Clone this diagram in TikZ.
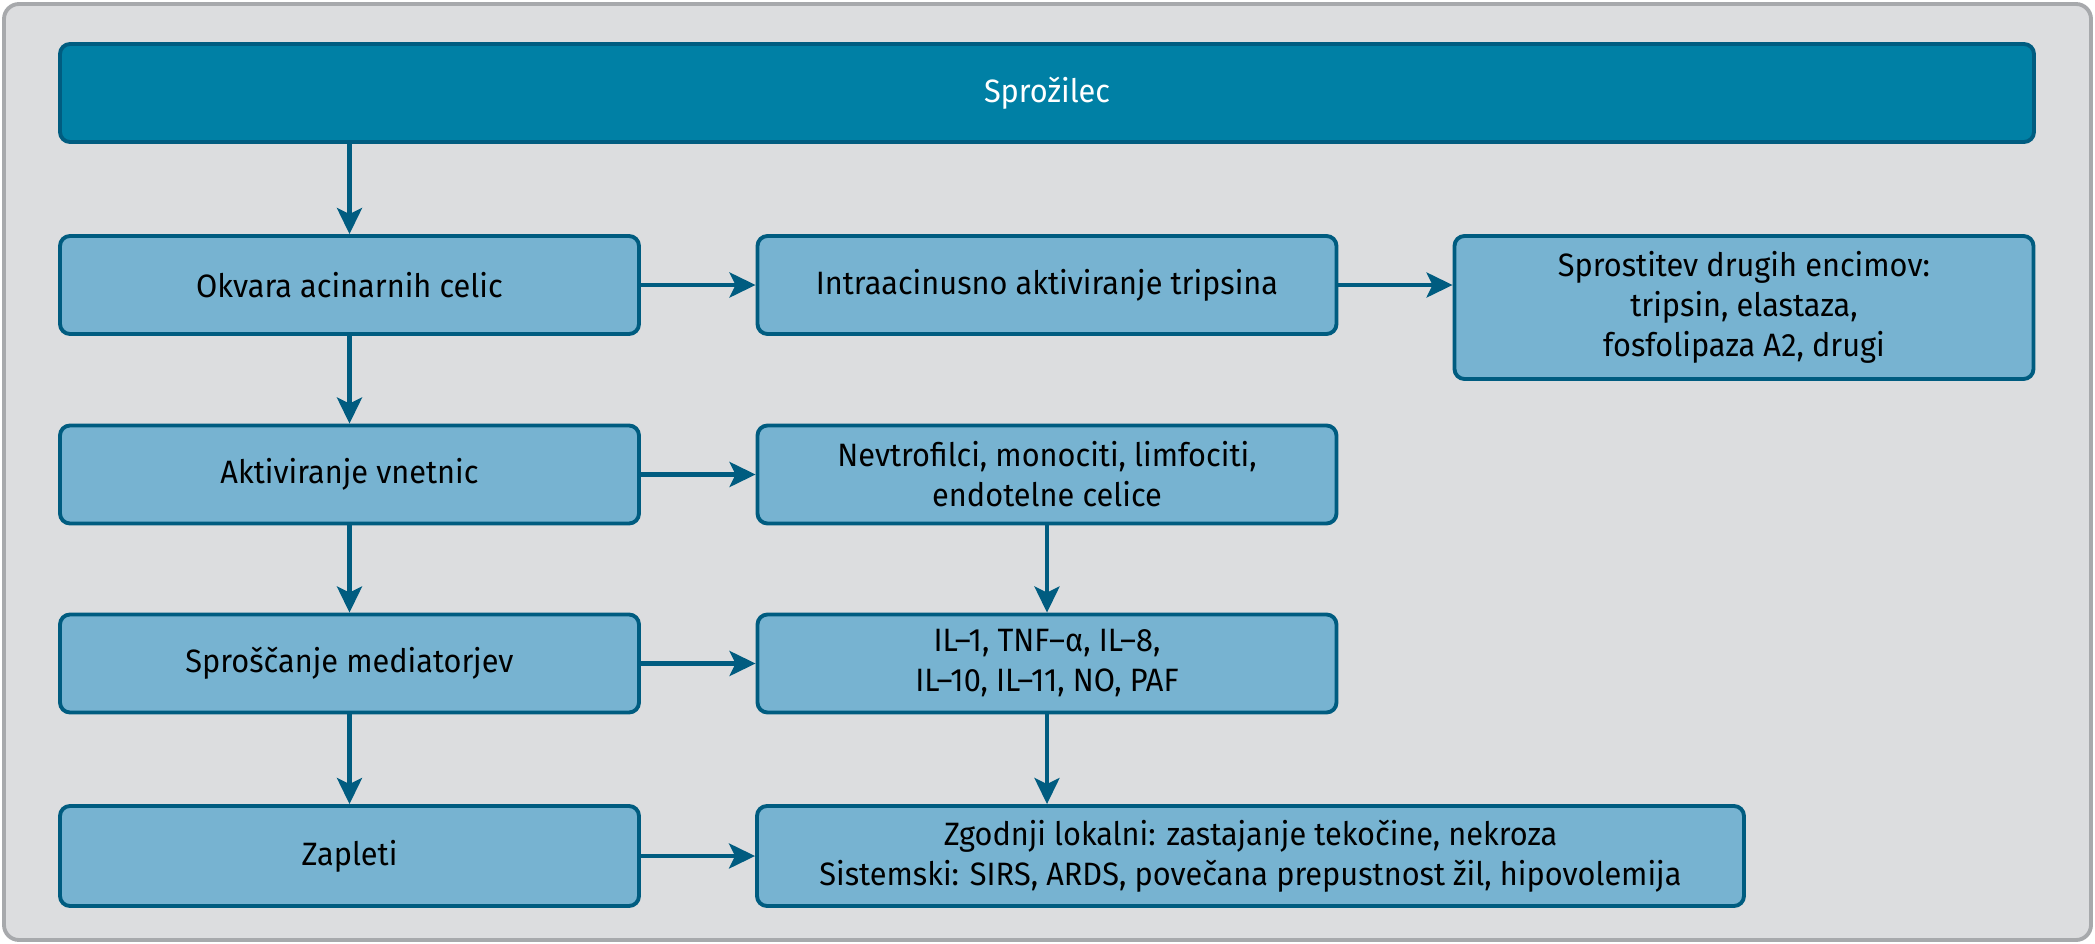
\documentclass[tikz,border=0pt]{standalone}
\usepackage{fontspec}
\setmainfont[FakeStretch=0.95]{Fira Sans}
\usetikzlibrary{arrows.meta}

\definecolor{ozadje}{HTML}{DCDDDF}
\definecolor{okvir}{HTML}{A7A9AC}
\definecolor{temna}{HTML}{005C80}
\definecolor{glavna}{HTML}{0080A5}
\definecolor{svetla}{HTML}{77B3D1}

\tikzset{
  korak/.style={draw=temna, fill=svetla, line width=1.1pt,
    rounded corners=0.1cm, inner sep=0pt, align=center,
    minimum width=5.79cm, minimum height=0.98cm,
    font=\fontsize{9.2}{11.4}\selectfont},
  vrh/.style={korak, fill=glavna, text=white, minimum width=19.74cm},
  puscica/.style={-{Stealth[length=0.26cm, width=0.25cm, inset=0.06cm]},
    draw=temna, line width=1.15pt}
}

\begin{document}
\begin{tikzpicture}

\useasboundingbox (0,0) rectangle (20.95,-9.44);
\draw[fill=ozadje, draw=okvir, line width=1.1pt, rounded corners=0.15cm]
(0.04,-0.04) rectangle (20.91,-9.40);

\node[vrh]
(sprozilec)
at (10.47,-0.93)
{Sprožilec};

\node[korak]
(okvara)
at (3.495,-2.85)
{Okvara acinarnih celic};

\node[korak]
(tripsin)
at (10.47,-2.85)
{Intraacinusno aktiviranje tripsina};

\node[korak, minimum height=1.43cm]
(encimi)
at (17.44,-3.075)
{Sprostitev drugih encimov:\\tripsin, elastaza,\\fosfolipaza A2, drugi};

\node[korak]
(vnetnice)
at (3.495,-4.745)
{Aktiviranje vnetnic};

\node[korak]
(celice)
at (10.47,-4.745)
{Nevtrofilci, monociti, limfociti,\\endotelne celice};

\node[korak]
(mediatorji)
at (3.495,-6.635)
{Sproščanje mediatorjev};

\node[korak]
(citokini)
at (10.47,-6.635)
{IL–1, TNF–α, IL–8,\\IL–10, IL–11, NO, PAF};

\node[korak, minimum height=1.0cm]
(zapleti)
at (3.495,-8.56)
{Zapleti};

\node[korak, minimum width=9.87cm, minimum height=1.0cm]
(posledice)
at (12.505,-8.56)
{Zgodnji lokalni: zastajanje tekočine, nekroza\\Sistemski: SIRS, ARDS, povečana prepustnost žil, hipovolemija};

\draw[puscica]
(sprozilec.south -| okvara)--(okvara);

\draw[puscica]
(okvara)--(vnetnice);

\draw[puscica]
(vnetnice)--(mediatorji);

\draw[puscica]
(mediatorji)--(zapleti);

\draw[puscica]
(okvara)--(tripsin);

\draw[puscica]
(tripsin.east)--(tripsin.east -| encimi.west);

\draw[puscica]
(vnetnice)--(celice);

\draw[puscica]
(mediatorji)--(citokini);

\draw[puscica]
(zapleti)--(posledice);

\draw[puscica]
(celice)--(citokini);

\draw[puscica]
(citokini.south)--(citokini.south |- posledice.north);

\end{tikzpicture}
\end{document}
